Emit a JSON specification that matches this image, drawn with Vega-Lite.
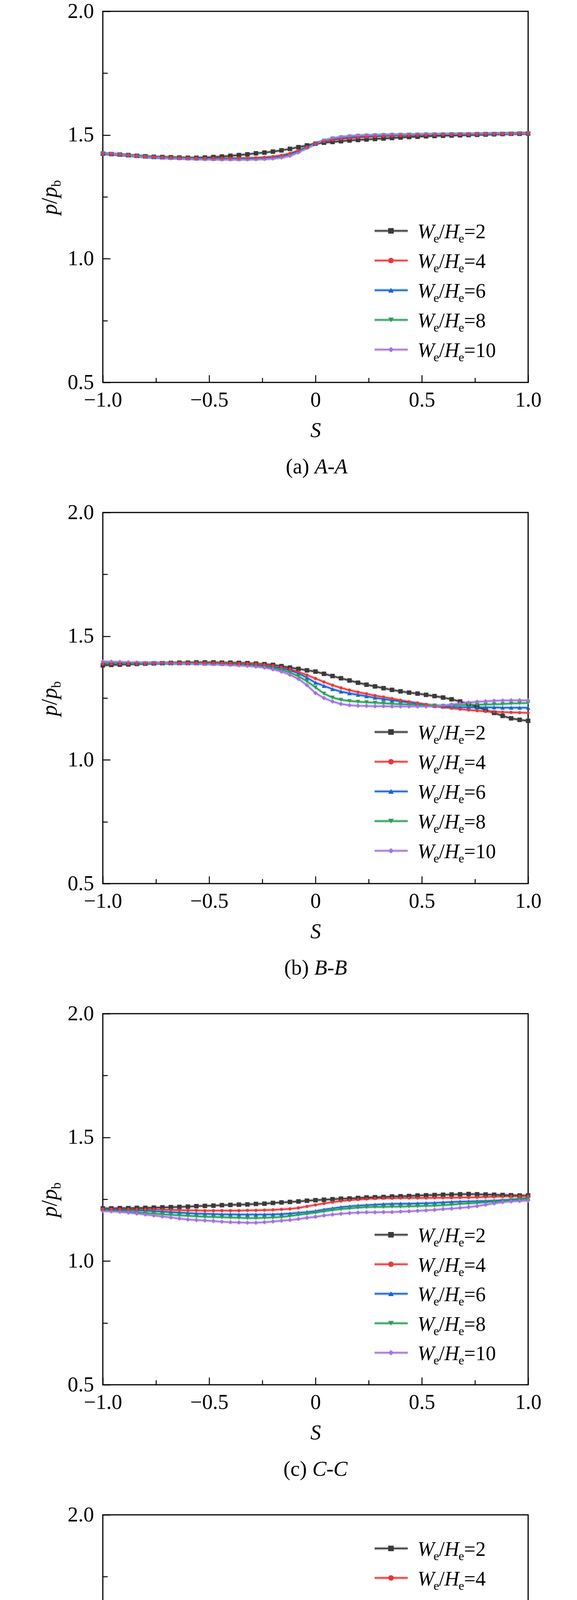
{
  "$schema": "https://vega.github.io/schema/vega-lite/v6.json",
  "autosize": {"type": "pad"},
  "padding": {"left": 98, "top": 0, "right": 0, "bottom": 0},
  "spacing": 333,
  "bounds": "flush",
  "config": {
    "font": "Liberation Serif",
    "view": {"stroke": "black", "strokeWidth": 3},
    "axis": {"labelFont": "Liberation Serif", "labelFontSize": 54, "labelColor": "black", "tickColor": "black", "tickWidth": 2.5, "domain": false, "grid": false, "labelFlush": false, "labelOverlap": false, "titleFont": "Liberation Serif", "titleFontSize": 54, "titleColor": "black", "titleFontWeight": "normal"},
    "text": {"color": "black"}
  },
  "datasets": {
    "leg": [{"k": "k2", "n": "=2"}, {"k": "k4", "n": "=4"}, {"k": "k6", "n": "=6"}, {"k": "k8", "n": "=8"}, {"k": "k10", "n": "=10"}],
    "a": [
      {"s":-1,"k2":1.425,"k4":1.425,"k6":1.425,"k8":1.425,"k10":1.426},
      {"s":-0.96,"k2":1.423,"k4":1.423,"k6":1.423,"k8":1.423,"k10":1.424},
      {"s":-0.92,"k2":1.421,"k4":1.42,"k6":1.42,"k8":1.42,"k10":1.421},
      {"s":-0.88,"k2":1.419,"k4":1.418,"k6":1.417,"k8":1.417,"k10":1.418},
      {"s":-0.84,"k2":1.416,"k4":1.415,"k6":1.415,"k8":1.414,"k10":1.415},
      {"s":-0.8,"k2":1.414,"k4":1.413,"k6":1.412,"k8":1.412,"k10":1.412},
      {"s":-0.76,"k2":1.412,"k4":1.411,"k6":1.41,"k8":1.41,"k10":1.41},
      {"s":-0.72,"k2":1.411,"k4":1.41,"k6":1.409,"k8":1.408,"k10":1.408},
      {"s":-0.68,"k2":1.41,"k4":1.409,"k6":1.408,"k8":1.407,"k10":1.406},
      {"s":-0.64,"k2":1.409,"k4":1.408,"k6":1.407,"k8":1.406,"k10":1.405},
      {"s":-0.6,"k2":1.408,"k4":1.407,"k6":1.406,"k8":1.405,"k10":1.404},
      {"s":-0.56,"k2":1.408,"k4":1.406,"k6":1.405,"k8":1.404,"k10":1.403},
      {"s":-0.52,"k2":1.409,"k4":1.406,"k6":1.405,"k8":1.403,"k10":1.402},
      {"s":-0.48,"k2":1.411,"k4":1.406,"k6":1.404,"k8":1.403,"k10":1.402},
      {"s":-0.44,"k2":1.413,"k4":1.406,"k6":1.404,"k8":1.402,"k10":1.401},
      {"s":-0.4,"k2":1.416,"k4":1.406,"k6":1.404,"k8":1.402,"k10":1.401},
      {"s":-0.36,"k2":1.419,"k4":1.406,"k6":1.404,"k8":1.402,"k10":1.401},
      {"s":-0.32,"k2":1.422,"k4":1.407,"k6":1.405,"k8":1.402,"k10":1.401},
      {"s":-0.28,"k2":1.426,"k4":1.408,"k6":1.406,"k8":1.403,"k10":1.402},
      {"s":-0.24,"k2":1.429,"k4":1.41,"k6":1.407,"k8":1.404,"k10":1.403},
      {"s":-0.2,"k2":1.433,"k4":1.413,"k6":1.41,"k8":1.406,"k10":1.405},
      {"s":-0.16,"k2":1.438,"k4":1.418,"k6":1.414,"k8":1.41,"k10":1.409},
      {"s":-0.12,"k2":1.444,"k4":1.426,"k6":1.422,"k8":1.418,"k10":1.416},
      {"s":-0.08,"k2":1.451,"k4":1.437,"k6":1.436,"k8":1.432,"k10":1.43},
      {"s":-0.04,"k2":1.458,"k4":1.451,"k6":1.451,"k8":1.449,"k10":1.448},
      {"s":0,"k2":1.465,"k4":1.466,"k6":1.466,"k8":1.465,"k10":1.465},
      {"s":0.04,"k2":1.469,"k4":1.474,"k6":1.476,"k8":1.477,"k10":1.478},
      {"s":0.08,"k2":1.472,"k4":1.48,"k6":1.483,"k8":1.486,"k10":1.487},
      {"s":0.12,"k2":1.475,"k4":1.484,"k6":1.488,"k8":1.491,"k10":1.492},
      {"s":0.16,"k2":1.478,"k4":1.487,"k6":1.491,"k8":1.494,"k10":1.496},
      {"s":0.2,"k2":1.48,"k4":1.49,"k6":1.494,"k8":1.497,"k10":1.498},
      {"s":0.24,"k2":1.482,"k4":1.492,"k6":1.496,"k8":1.498,"k10":1.499},
      {"s":0.28,"k2":1.484,"k4":1.494,"k6":1.497,"k8":1.499,"k10":1.5},
      {"s":0.32,"k2":1.486,"k4":1.496,"k6":1.498,"k8":1.5,"k10":1.501},
      {"s":0.36,"k2":1.488,"k4":1.497,"k6":1.499,"k8":1.501,"k10":1.501},
      {"s":0.4,"k2":1.49,"k4":1.498,"k6":1.5,"k8":1.501,"k10":1.502},
      {"s":0.44,"k2":1.492,"k4":1.499,"k6":1.501,"k8":1.502,"k10":1.502},
      {"s":0.48,"k2":1.493,"k4":1.5,"k6":1.501,"k8":1.502,"k10":1.503},
      {"s":0.52,"k2":1.495,"k4":1.5,"k6":1.502,"k8":1.503,"k10":1.503},
      {"s":0.56,"k2":1.496,"k4":1.501,"k6":1.502,"k8":1.503,"k10":1.503},
      {"s":0.6,"k2":1.497,"k4":1.502,"k6":1.503,"k8":1.503,"k10":1.504},
      {"s":0.64,"k2":1.498,"k4":1.502,"k6":1.503,"k8":1.504,"k10":1.504},
      {"s":0.68,"k2":1.499,"k4":1.503,"k6":1.504,"k8":1.504,"k10":1.504},
      {"s":0.72,"k2":1.5,"k4":1.503,"k6":1.504,"k8":1.504,"k10":1.505},
      {"s":0.76,"k2":1.501,"k4":1.504,"k6":1.504,"k8":1.505,"k10":1.505},
      {"s":0.8,"k2":1.502,"k4":1.504,"k6":1.505,"k8":1.505,"k10":1.505},
      {"s":0.84,"k2":1.503,"k4":1.505,"k6":1.505,"k8":1.505,"k10":1.506},
      {"s":0.88,"k2":1.504,"k4":1.505,"k6":1.506,"k8":1.506,"k10":1.506},
      {"s":0.92,"k2":1.505,"k4":1.506,"k6":1.506,"k8":1.506,"k10":1.506},
      {"s":0.96,"k2":1.505,"k4":1.506,"k6":1.507,"k8":1.507,"k10":1.507},
      {"s":1,"k2":1.506,"k4":1.507,"k6":1.507,"k8":1.507,"k10":1.507}
    ],
    "b": [
      {"s":-1,"k2":1.382,"k4":1.388,"k6":1.39,"k8":1.39,"k10":1.398},
      {"s":-0.96,"k2":1.384,"k4":1.388,"k6":1.39,"k8":1.39,"k10":1.397},
      {"s":-0.92,"k2":1.385,"k4":1.389,"k6":1.39,"k8":1.39,"k10":1.396},
      {"s":-0.88,"k2":1.386,"k4":1.389,"k6":1.39,"k8":1.39,"k10":1.395},
      {"s":-0.84,"k2":1.388,"k4":1.39,"k6":1.39,"k8":1.39,"k10":1.394},
      {"s":-0.8,"k2":1.389,"k4":1.39,"k6":1.39,"k8":1.39,"k10":1.393},
      {"s":-0.76,"k2":1.39,"k4":1.391,"k6":1.39,"k8":1.39,"k10":1.392},
      {"s":-0.72,"k2":1.391,"k4":1.391,"k6":1.39,"k8":1.39,"k10":1.392},
      {"s":-0.68,"k2":1.392,"k4":1.392,"k6":1.39,"k8":1.39,"k10":1.391},
      {"s":-0.64,"k2":1.393,"k4":1.392,"k6":1.39,"k8":1.39,"k10":1.39},
      {"s":-0.6,"k2":1.393,"k4":1.392,"k6":1.39,"k8":1.39,"k10":1.39},
      {"s":-0.56,"k2":1.394,"k4":1.392,"k6":1.39,"k8":1.39,"k10":1.389},
      {"s":-0.52,"k2":1.394,"k4":1.392,"k6":1.389,"k8":1.389,"k10":1.388},
      {"s":-0.48,"k2":1.394,"k4":1.392,"k6":1.389,"k8":1.388,"k10":1.387},
      {"s":-0.44,"k2":1.393,"k4":1.392,"k6":1.388,"k8":1.387,"k10":1.386},
      {"s":-0.4,"k2":1.393,"k4":1.391,"k6":1.387,"k8":1.386,"k10":1.384},
      {"s":-0.36,"k2":1.392,"k4":1.39,"k6":1.386,"k8":1.385,"k10":1.382},
      {"s":-0.32,"k2":1.391,"k4":1.389,"k6":1.385,"k8":1.383,"k10":1.38},
      {"s":-0.28,"k2":1.389,"k4":1.388,"k6":1.383,"k8":1.381,"k10":1.377},
      {"s":-0.24,"k2":1.387,"k4":1.385,"k6":1.38,"k8":1.377,"k10":1.373},
      {"s":-0.2,"k2":1.384,"k4":1.381,"k6":1.376,"k8":1.372,"k10":1.366},
      {"s":-0.16,"k2":1.379,"k4":1.375,"k6":1.37,"k8":1.364,"k10":1.357},
      {"s":-0.12,"k2":1.373,"k4":1.367,"k6":1.362,"k8":1.353,"k10":1.344},
      {"s":-0.08,"k2":1.368,"k4":1.356,"k6":1.35,"k8":1.338,"k10":1.327},
      {"s":-0.04,"k2":1.362,"k4":1.343,"k6":1.332,"k8":1.318,"k10":1.302},
      {"s":0,"k2":1.357,"k4":1.329,"k6":1.312,"k8":1.293,"k10":1.27},
      {"s":0.04,"k2":1.348,"k4":1.315,"k6":1.299,"k8":1.268,"k10":1.25},
      {"s":0.08,"k2":1.339,"k4":1.302,"k6":1.286,"k8":1.252,"k10":1.236},
      {"s":0.12,"k2":1.33,"k4":1.291,"k6":1.276,"k8":1.243,"k10":1.226},
      {"s":0.16,"k2":1.321,"k4":1.282,"k6":1.269,"k8":1.238,"k10":1.221},
      {"s":0.2,"k2":1.312,"k4":1.274,"k6":1.263,"k8":1.235,"k10":1.219},
      {"s":0.24,"k2":1.304,"k4":1.267,"k6":1.257,"k8":1.233,"k10":1.218},
      {"s":0.28,"k2":1.297,"k4":1.26,"k6":1.251,"k8":1.231,"k10":1.217},
      {"s":0.32,"k2":1.29,"k4":1.254,"k6":1.246,"k8":1.229,"k10":1.217},
      {"s":0.36,"k2":1.283,"k4":1.248,"k6":1.241,"k8":1.227,"k10":1.216},
      {"s":0.4,"k2":1.277,"k4":1.241,"k6":1.237,"k8":1.225,"k10":1.216},
      {"s":0.44,"k2":1.272,"k4":1.235,"k6":1.232,"k8":1.224,"k10":1.216},
      {"s":0.48,"k2":1.268,"k4":1.23,"k6":1.227,"k8":1.222,"k10":1.216},
      {"s":0.52,"k2":1.263,"k4":1.224,"k6":1.222,"k8":1.221,"k10":1.216},
      {"s":0.56,"k2":1.258,"k4":1.218,"k6":1.218,"k8":1.22,"k10":1.217},
      {"s":0.6,"k2":1.252,"k4":1.213,"k6":1.215,"k8":1.219,"k10":1.219},
      {"s":0.64,"k2":1.245,"k4":1.209,"k6":1.214,"k8":1.22,"k10":1.224},
      {"s":0.68,"k2":1.236,"k4":1.205,"k6":1.213,"k8":1.221,"k10":1.228},
      {"s":0.72,"k2":1.226,"k4":1.202,"k6":1.213,"k8":1.222,"k10":1.232},
      {"s":0.76,"k2":1.214,"k4":1.199,"k6":1.212,"k8":1.223,"k10":1.235},
      {"s":0.8,"k2":1.202,"k4":1.196,"k6":1.212,"k8":1.224,"k10":1.237},
      {"s":0.84,"k2":1.19,"k4":1.195,"k6":1.212,"k8":1.225,"k10":1.239},
      {"s":0.88,"k2":1.178,"k4":1.193,"k6":1.211,"k8":1.226,"k10":1.24},
      {"s":0.92,"k2":1.168,"k4":1.192,"k6":1.211,"k8":1.228,"k10":1.241},
      {"s":0.96,"k2":1.162,"k4":1.191,"k6":1.211,"k8":1.229,"k10":1.241},
      {"s":1,"k2":1.158,"k4":1.19,"k6":1.211,"k8":1.23,"k10":1.241}
    ],
    "c": [
      {"s":-1,"k2":1.213,"k4":1.21,"k6":1.209,"k8":1.207,"k10":1.202},
      {"s":-0.96,"k2":1.213,"k4":1.21,"k6":1.208,"k8":1.204,"k10":1.201},
      {"s":-0.92,"k2":1.214,"k4":1.21,"k6":1.207,"k8":1.202,"k10":1.199},
      {"s":-0.88,"k2":1.214,"k4":1.21,"k6":1.206,"k8":1.199,"k10":1.196},
      {"s":-0.84,"k2":1.215,"k4":1.209,"k6":1.205,"k8":1.197,"k10":1.192},
      {"s":-0.8,"k2":1.215,"k4":1.209,"k6":1.204,"k8":1.194,"k10":1.188},
      {"s":-0.76,"k2":1.216,"k4":1.209,"k6":1.202,"k8":1.192,"k10":1.184},
      {"s":-0.72,"k2":1.217,"k4":1.208,"k6":1.2,"k8":1.189,"k10":1.18},
      {"s":-0.68,"k2":1.218,"k4":1.207,"k6":1.198,"k8":1.187,"k10":1.176},
      {"s":-0.64,"k2":1.219,"k4":1.206,"k6":1.196,"k8":1.185,"k10":1.172},
      {"s":-0.6,"k2":1.22,"k4":1.205,"k6":1.194,"k8":1.183,"k10":1.168},
      {"s":-0.56,"k2":1.222,"k4":1.205,"k6":1.192,"k8":1.181,"k10":1.166},
      {"s":-0.52,"k2":1.223,"k4":1.204,"k6":1.191,"k8":1.179,"k10":1.164},
      {"s":-0.48,"k2":1.224,"k4":1.204,"k6":1.19,"k8":1.178,"k10":1.162},
      {"s":-0.44,"k2":1.226,"k4":1.204,"k6":1.189,"k8":1.177,"k10":1.159},
      {"s":-0.4,"k2":1.227,"k4":1.204,"k6":1.189,"k8":1.176,"k10":1.157},
      {"s":-0.36,"k2":1.228,"k4":1.204,"k6":1.188,"k8":1.175,"k10":1.156},
      {"s":-0.32,"k2":1.229,"k4":1.205,"k6":1.188,"k8":1.174,"k10":1.155},
      {"s":-0.28,"k2":1.231,"k4":1.205,"k6":1.188,"k8":1.174,"k10":1.155},
      {"s":-0.24,"k2":1.232,"k4":1.206,"k6":1.188,"k8":1.175,"k10":1.157},
      {"s":-0.2,"k2":1.235,"k4":1.207,"k6":1.189,"k8":1.176,"k10":1.16},
      {"s":-0.16,"k2":1.237,"k4":1.209,"k6":1.19,"k8":1.178,"k10":1.163},
      {"s":-0.12,"k2":1.239,"k4":1.211,"k6":1.192,"k8":1.182,"k10":1.166},
      {"s":-0.08,"k2":1.241,"k4":1.215,"k6":1.195,"k8":1.187,"k10":1.17},
      {"s":-0.04,"k2":1.244,"k4":1.221,"k6":1.198,"k8":1.191,"k10":1.175},
      {"s":0,"k2":1.246,"k4":1.227,"k6":1.202,"k8":1.196,"k10":1.179},
      {"s":0.04,"k2":1.248,"k4":1.233,"k6":1.208,"k8":1.201,"k10":1.184},
      {"s":0.08,"k2":1.25,"k4":1.238,"k6":1.213,"k8":1.206,"k10":1.188},
      {"s":0.12,"k2":1.252,"k4":1.243,"k6":1.218,"k8":1.21,"k10":1.191},
      {"s":0.16,"k2":1.253,"k4":1.246,"k6":1.221,"k8":1.213,"k10":1.194},
      {"s":0.2,"k2":1.255,"k4":1.249,"k6":1.224,"k8":1.216,"k10":1.196},
      {"s":0.24,"k2":1.257,"k4":1.251,"k6":1.226,"k8":1.218,"k10":1.197},
      {"s":0.28,"k2":1.258,"k4":1.253,"k6":1.228,"k8":1.219,"k10":1.197},
      {"s":0.32,"k2":1.259,"k4":1.254,"k6":1.23,"k8":1.219,"k10":1.198},
      {"s":0.36,"k2":1.261,"k4":1.254,"k6":1.231,"k8":1.22,"k10":1.198},
      {"s":0.4,"k2":1.262,"k4":1.255,"k6":1.232,"k8":1.22,"k10":1.2},
      {"s":0.44,"k2":1.263,"k4":1.255,"k6":1.232,"k8":1.221,"k10":1.201},
      {"s":0.48,"k2":1.265,"k4":1.255,"k6":1.233,"k8":1.222,"k10":1.203},
      {"s":0.52,"k2":1.266,"k4":1.255,"k6":1.234,"k8":1.223,"k10":1.205},
      {"s":0.56,"k2":1.267,"k4":1.256,"k6":1.235,"k8":1.224,"k10":1.207},
      {"s":0.6,"k2":1.268,"k4":1.256,"k6":1.237,"k8":1.226,"k10":1.21},
      {"s":0.64,"k2":1.269,"k4":1.256,"k6":1.239,"k8":1.228,"k10":1.212},
      {"s":0.68,"k2":1.27,"k4":1.257,"k6":1.24,"k8":1.231,"k10":1.215},
      {"s":0.72,"k2":1.271,"k4":1.257,"k6":1.241,"k8":1.233,"k10":1.218},
      {"s":0.76,"k2":1.27,"k4":1.258,"k6":1.242,"k8":1.235,"k10":1.222},
      {"s":0.8,"k2":1.269,"k4":1.259,"k6":1.243,"k8":1.238,"k10":1.228},
      {"s":0.84,"k2":1.268,"k4":1.26,"k6":1.244,"k8":1.24,"k10":1.233},
      {"s":0.88,"k2":1.267,"k4":1.261,"k6":1.246,"k8":1.243,"k10":1.238},
      {"s":0.92,"k2":1.266,"k4":1.262,"k6":1.248,"k8":1.246,"k10":1.241},
      {"s":0.96,"k2":1.265,"k4":1.262,"k6":1.251,"k8":1.249,"k10":1.243},
      {"s":1,"k2":1.265,"k4":1.263,"k6":1.254,"k8":1.252,"k10":1.244}
    ],
    "d": [
      {"s":-1,"k2":0.998,"k4":0.984,"k6":0.959,"k8":0.933,"k10":0.909},
      {"s":-0.96,"k2":0.996,"k4":0.985,"k6":0.963,"k8":0.94,"k10":0.92},
      {"s":-0.92,"k2":0.993,"k4":0.986,"k6":0.968,"k8":0.948,"k10":0.934},
      {"s":-0.88,"k2":0.99,"k4":0.988,"k6":0.974,"k8":0.957,"k10":0.95},
      {"s":-0.84,"k2":0.987,"k4":0.99,"k6":0.982,"k8":0.968,"k10":0.97},
      {"s":-0.8,"k2":0.984,"k4":0.993,"k6":0.991,"k8":0.98,"k10":0.992},
      {"s":-0.76,"k2":0.982,"k4":0.997,"k6":1.001,"k8":0.995,"k10":1.014},
      {"s":-0.72,"k2":0.98,"k4":1.001,"k6":1.012,"k8":1.011,"k10":1.036},
      {"s":-0.68,"k2":0.978,"k4":1.005,"k6":1.023,"k8":1.025,"k10":1.056},
      {"s":-0.64,"k2":0.976,"k4":1.008,"k6":1.035,"k8":1.036,"k10":1.074},
      {"s":-0.6,"k2":0.975,"k4":1.011,"k6":1.044,"k8":1.047,"k10":1.089},
      {"s":-0.56,"k2":0.974,"k4":1.013,"k6":1.05,"k8":1.057,"k10":1.101},
      {"s":-0.52,"k2":0.973,"k4":1.015,"k6":1.055,"k8":1.067,"k10":1.112},
      {"s":-0.48,"k2":0.972,"k4":1.017,"k6":1.06,"k8":1.077,"k10":1.121},
      {"s":-0.44,"k2":0.972,"k4":1.019,"k6":1.064,"k8":1.086,"k10":1.129},
      {"s":-0.4,"k2":0.972,"k4":1.02,"k6":1.066,"k8":1.094,"k10":1.135},
      {"s":-0.36,"k2":0.973,"k4":1.022,"k6":1.069,"k8":1.1,"k10":1.139},
      {"s":-0.32,"k2":0.974,"k4":1.023,"k6":1.071,"k8":1.105,"k10":1.143},
      {"s":-0.28,"k2":0.975,"k4":1.025,"k6":1.073,"k8":1.11,"k10":1.146},
      {"s":-0.24,"k2":0.977,"k4":1.027,"k6":1.075,"k8":1.114,"k10":1.148},
      {"s":-0.2,"k2":0.979,"k4":1.029,"k6":1.076,"k8":1.117,"k10":1.15},
      {"s":-0.16,"k2":0.981,"k4":1.031,"k6":1.077,"k8":1.119,"k10":1.151},
      {"s":-0.12,"k2":0.984,"k4":1.033,"k6":1.078,"k8":1.12,"k10":1.152},
      {"s":-0.08,"k2":0.987,"k4":1.035,"k6":1.079,"k8":1.121,"k10":1.153},
      {"s":-0.04,"k2":0.989,"k4":1.037,"k6":1.08,"k8":1.122,"k10":1.154},
      {"s":0,"k2":0.991,"k4":1.038,"k6":1.08,"k8":1.122,"k10":1.154},
      {"s":0.04,"k2":0.993,"k4":1.039,"k6":1.08,"k8":1.122,"k10":1.154},
      {"s":0.08,"k2":0.995,"k4":1.04,"k6":1.08,"k8":1.122,"k10":1.154},
      {"s":0.12,"k2":0.996,"k4":1.041,"k6":1.08,"k8":1.121,"k10":1.153},
      {"s":0.16,"k2":0.998,"k4":1.041,"k6":1.08,"k8":1.12,"k10":1.151},
      {"s":0.2,"k2":0.999,"k4":1.041,"k6":1.08,"k8":1.119,"k10":1.148},
      {"s":0.24,"k2":1.001,"k4":1.04,"k6":1.08,"k8":1.117,"k10":1.143},
      {"s":0.28,"k2":1.002,"k4":1.039,"k6":1.079,"k8":1.115,"k10":1.136},
      {"s":0.32,"k2":1.003,"k4":1.038,"k6":1.078,"k8":1.111,"k10":1.128},
      {"s":0.36,"k2":1.004,"k4":1.037,"k6":1.077,"k8":1.106,"k10":1.12},
      {"s":0.4,"k2":1.004,"k4":1.036,"k6":1.075,"k8":1.1,"k10":1.11},
      {"s":0.44,"k2":1.005,"k4":1.034,"k6":1.073,"k8":1.093,"k10":1.099},
      {"s":0.48,"k2":1.005,"k4":1.032,"k6":1.07,"k8":1.083,"k10":1.087},
      {"s":0.52,"k2":1.006,"k4":1.029,"k6":1.065,"k8":1.072,"k10":1.074},
      {"s":0.56,"k2":1.006,"k4":1.026,"k6":1.059,"k8":1.061,"k10":1.059},
      {"s":0.6,"k2":1.007,"k4":1.023,"k6":1.051,"k8":1.05,"k10":1.042},
      {"s":0.64,"k2":1.008,"k4":1.019,"k6":1.043,"k8":1.039,"k10":1.026},
      {"s":0.68,"k2":1.009,"k4":1.016,"k6":1.034,"k8":1.028,"k10":1.01},
      {"s":0.72,"k2":1.011,"k4":1.013,"k6":1.025,"k8":1.017,"k10":0.993},
      {"s":0.76,"k2":1.013,"k4":1.01,"k6":1.017,"k8":1.005,"k10":0.975},
      {"s":0.8,"k2":1.016,"k4":1.007,"k6":1.01,"k8":0.992,"k10":0.958},
      {"s":0.84,"k2":1.018,"k4":1.005,"k6":1.004,"k8":0.979,"k10":0.942},
      {"s":0.88,"k2":1.02,"k4":1.003,"k6":0.996,"k8":0.968,"k10":0.928},
      {"s":0.92,"k2":1.022,"k4":1.001,"k6":0.989,"k8":0.959,"k10":0.917},
      {"s":0.96,"k2":1.024,"k4":0.999,"k6":0.98,"k8":0.952,"k10":0.907},
      {"s":1,"k2":1.025,"k4":0.997,"k6":0.97,"k8":0.946,"k10":0.898}
    ],
    "e": [
      {"s":-1,"k2":1,"k4":1,"k6":1,"k8":1,"k10":1},
      {"s":-0.96,"k2":1,"k4":1,"k6":1,"k8":1,"k10":1},
      {"s":-0.92,"k2":1,"k4":1,"k6":1,"k8":1,"k10":1},
      {"s":-0.88,"k2":1,"k4":1,"k6":1,"k8":1,"k10":1},
      {"s":-0.84,"k2":1,"k4":1,"k6":1,"k8":1,"k10":1},
      {"s":-0.8,"k2":1,"k4":1,"k6":1,"k8":1,"k10":1},
      {"s":-0.76,"k2":1,"k4":1,"k6":1,"k8":1,"k10":1},
      {"s":-0.72,"k2":1,"k4":1,"k6":1,"k8":1,"k10":1},
      {"s":-0.68,"k2":1,"k4":1,"k6":1,"k8":1,"k10":1},
      {"s":-0.64,"k2":1,"k4":1,"k6":1,"k8":1,"k10":1},
      {"s":-0.6,"k2":1,"k4":1,"k6":1,"k8":1,"k10":1},
      {"s":-0.56,"k2":1,"k4":1,"k6":1,"k8":1,"k10":1},
      {"s":-0.52,"k2":1,"k4":1,"k6":1,"k8":1,"k10":1},
      {"s":-0.48,"k2":1,"k4":1,"k6":1,"k8":1,"k10":1},
      {"s":-0.44,"k2":1,"k4":1,"k6":1,"k8":1,"k10":1},
      {"s":-0.4,"k2":1,"k4":1,"k6":1,"k8":1,"k10":1},
      {"s":-0.36,"k2":1,"k4":1,"k6":1,"k8":1,"k10":1},
      {"s":-0.32,"k2":1,"k4":1,"k6":1,"k8":1,"k10":1},
      {"s":-0.28,"k2":1,"k4":1,"k6":1,"k8":1,"k10":1},
      {"s":-0.24,"k2":1,"k4":1,"k6":1,"k8":1,"k10":1},
      {"s":-0.2,"k2":1,"k4":1,"k6":1,"k8":1,"k10":1},
      {"s":-0.16,"k2":1,"k4":1,"k6":1,"k8":1,"k10":1},
      {"s":-0.12,"k2":1,"k4":1,"k6":1,"k8":1,"k10":1},
      {"s":-0.08,"k2":1,"k4":1,"k6":1,"k8":1,"k10":1},
      {"s":-0.04,"k2":1,"k4":1,"k6":1,"k8":1,"k10":1},
      {"s":0,"k2":1,"k4":1,"k6":1,"k8":1,"k10":1},
      {"s":0.04,"k2":1,"k4":1,"k6":1,"k8":1,"k10":1},
      {"s":0.08,"k2":1,"k4":1,"k6":1,"k8":1,"k10":1},
      {"s":0.12,"k2":1,"k4":1,"k6":1,"k8":1,"k10":1},
      {"s":0.16,"k2":1,"k4":1,"k6":1,"k8":1,"k10":1},
      {"s":0.2,"k2":1,"k4":1,"k6":1,"k8":1,"k10":1},
      {"s":0.24,"k2":1,"k4":1,"k6":1,"k8":1,"k10":1},
      {"s":0.28,"k2":1,"k4":1,"k6":1,"k8":1,"k10":1},
      {"s":0.32,"k2":1,"k4":1,"k6":1,"k8":1,"k10":1},
      {"s":0.36,"k2":1,"k4":1,"k6":1,"k8":1,"k10":1},
      {"s":0.4,"k2":1,"k4":1,"k6":1,"k8":1,"k10":1},
      {"s":0.44,"k2":1,"k4":1,"k6":1,"k8":1,"k10":1},
      {"s":0.48,"k2":1,"k4":1,"k6":1,"k8":1,"k10":1},
      {"s":0.52,"k2":1,"k4":1,"k6":1,"k8":1,"k10":1},
      {"s":0.56,"k2":1,"k4":1,"k6":1,"k8":1,"k10":1},
      {"s":0.6,"k2":1,"k4":1,"k6":1,"k8":1,"k10":1},
      {"s":0.64,"k2":1,"k4":1,"k6":1,"k8":1,"k10":1},
      {"s":0.68,"k2":1,"k4":1,"k6":1,"k8":1,"k10":1},
      {"s":0.72,"k2":1,"k4":1,"k6":1,"k8":1,"k10":1},
      {"s":0.76,"k2":1,"k4":1,"k6":1,"k8":1,"k10":1},
      {"s":0.8,"k2":1,"k4":1,"k6":1,"k8":1,"k10":1},
      {"s":0.84,"k2":1,"k4":1,"k6":1,"k8":1,"k10":1},
      {"s":0.88,"k2":1,"k4":1,"k6":1,"k8":1,"k10":1},
      {"s":0.92,"k2":1,"k4":1,"k6":1,"k8":1,"k10":1},
      {"s":0.96,"k2":1,"k4":1,"k6":1,"k8":1,"k10":1},
      {"s":1,"k2":1,"k4":1,"k6":1,"k8":1,"k10":1}
    ]
  },
  "vconcat": [
    {
      "width": 1088, "height": 950,
      "resolve": {"scale": {"y": "independent"}, "axis": {"x": "independent", "y": "independent"}},
      "layer": [
        {"data": {"name": "a"}, "transform": [{"fold": ["k2","k4","k6","k8","k10"], "as": ["k","v"]}],
         "mark": {"type": "line", "strokeWidth": 9, "opacity": 0.25},
         "encoding": {
           "x": {"field": "s", "type": "quantitative", "scale": {"domain": [-1,1], "nice": false}, "axis": {"orient": "bottom", "values": [-0.75,-0.25,0.25,0.75], "tickSize": -12, "labels": false, "title": null}},
           "y": {"field": "v", "type": "quantitative", "scale": {"domain": [0.5,2], "nice": false, "zero": false}, "axis": {"orient": "left", "values": [0.75,1.25,1.75], "tickSize": -12, "labels": false, "title": null}},
           "color": {"field": "k", "type": "nominal", "scale": {"domain": ["k2","k4","k6","k8","k10"], "range": ["#3a3a3a","#e8383d","#1565d8","#2b9e5a","#a573e0"]}, "legend": null}}},
        {"data": {"name": "a"}, "transform": [{"fold": ["k2","k4","k6","k8","k10"], "as": ["k","v"]}],
         "mark": {"type": "line", "strokeWidth": 3.5},
         "encoding": {
           "x": {"field": "s", "type": "quantitative", "scale": {"domain": [-1,1], "nice": false}, "axis": {"orient": "bottom", "values": [-1,-0.5,0,0.5,1], "tickSize": -19, "labelPadding": 37, "labelExpr": "datum.value == 0 ? '0' : format(datum.value, '.1f')", "title": "S", "titleFontStyle": "italic", "titlePadding": 24}},
           "y": {"field": "v", "type": "quantitative", "scale": {"domain": [0.5,2], "nice": false, "zero": false}, "axis": {"orient": "left", "values": [0.5,1,1.5,2], "tickSize": -19, "labelPadding": 42, "format": ".1f", "title": null}},
           "color": {"field": "k", "type": "nominal", "scale": {"domain": ["k2","k4","k6","k8","k10"], "range": ["#3a3a3a","#e8383d","#1565d8","#2b9e5a","#a573e0"]}, "legend": null}}},
        {"data": {"name": "a"}, "transform": [{"fold": ["k2","k4","k6","k8","k10"], "as": ["k","v"]}, {"filter": "datum.k != 'k4'"}],
         "mark": {"type": "point", "filled": true, "opacity": 1, "size": 130},
         "encoding": {
           "x": {"field": "s", "type": "quantitative", "scale": {"domain": [-1,1], "nice": false}, "axis": null},
           "y": {"field": "v", "type": "quantitative", "scale": {"domain": [0.5,2], "nice": false, "zero": false}, "axis": null},
           "color": {"field": "k", "type": "nominal", "scale": {"domain": ["k2","k4","k6","k8","k10"], "range": ["#3a3a3a","#e8383d","#1565d8","#2b9e5a","#a573e0"]}, "legend": null},
           "shape": {"field": "k", "type": "nominal", "scale": {"domain": ["k2","k4","k6","k8","k10"], "range": ["square","circle","triangle-up","triangle-down","diamond"]}, "legend": null}}},
        {"data": {"name": "a"}, "transform": [{"fold": ["k2","k4","k6","k8","k10"], "as": ["k","v"]}, {"filter": "datum.k == 'k4'"}],
         "mark": {"type": "point", "filled": true, "opacity": 1, "size": 60},
         "encoding": {
           "x": {"field": "s", "type": "quantitative", "scale": {"domain": [-1,1], "nice": false}, "axis": null},
           "y": {"field": "v", "type": "quantitative", "scale": {"domain": [0.5,2], "nice": false, "zero": false}, "axis": null},
           "color": {"field": "k", "type": "nominal", "scale": {"domain": ["k2","k4","k6","k8","k10"], "range": ["#3a3a3a","#e8383d","#1565d8","#2b9e5a","#a573e0"]}, "legend": null},
           "shape": {"field": "k", "type": "nominal", "scale": {"domain": ["k2","k4","k6","k8","k10"], "range": ["square","circle","triangle-up","triangle-down","diamond"]}, "legend": null}}},
        {"data": {"name": "leg"},
         "encoding": {"y": {"field": "k", "type": "nominal", "scale": {"type": "point", "domain": ["k2","k4","k6","k8","k10"], "range": [562,866], "padding": 0}, "axis": null}},
         "layer": [
           {"mark": {"type": "rule", "strokeWidth": 9, "opacity": 0.25}, "encoding": {"x": {"datum": 0.278, "type": "quantitative", "scale": {"domain": [-1,1], "nice": false}, "axis": null}, "x2": {"datum": 0.434}, "color": {"field": "k", "type": "nominal", "scale": {"domain": ["k2","k4","k6","k8","k10"], "range": ["#3a3a3a","#e8383d","#1565d8","#2b9e5a","#a573e0"]}, "legend": null}}},
           {"mark": {"type": "rule", "strokeWidth": 3.5}, "encoding": {"x": {"datum": 0.278, "type": "quantitative", "scale": {"domain": [-1,1], "nice": false}, "axis": null}, "x2": {"datum": 0.434}, "color": {"field": "k", "type": "nominal", "scale": {"domain": ["k2","k4","k6","k8","k10"], "range": ["#3a3a3a","#e8383d","#1565d8","#2b9e5a","#a573e0"]}, "legend": null}}},
           {"mark": {"type": "point", "filled": true, "opacity": 1, "size": 200}, "encoding": {"x": {"datum": 0.355, "type": "quantitative", "scale": {"domain": [-1,1], "nice": false}, "axis": null}, "color": {"field": "k", "type": "nominal", "scale": {"domain": ["k2","k4","k6","k8","k10"], "range": ["#3a3a3a","#e8383d","#1565d8","#2b9e5a","#a573e0"]}, "legend": null}, "shape": {"field": "k", "type": "nominal", "scale": {"domain": ["k2","k4","k6","k8","k10"], "range": ["square","circle","triangle-up","triangle-down","diamond"]}, "legend": null}}},
           {"mark": {"type": "text", "fontSize": 52, "fontStyle": "italic", "align": "left", "baseline": "alphabetic", "dx": 0, "dy": 19}, "encoding": {"x": {"datum": 0.48, "type": "quantitative", "scale": {"domain": [-1,1], "nice": false}, "axis": null}, "text": {"value": "W"}}},
           {"mark": {"type": "text", "fontSize": 32, "align": "left", "baseline": "alphabetic", "dx": 41, "dy": 30}, "encoding": {"x": {"datum": 0.48, "type": "quantitative", "scale": {"domain": [-1,1], "nice": false}, "axis": null}, "text": {"value": "e"}}},
           {"mark": {"type": "text", "fontSize": 52, "align": "left", "baseline": "alphabetic", "dx": 55, "dy": 19}, "encoding": {"x": {"datum": 0.48, "type": "quantitative", "scale": {"domain": [-1,1], "nice": false}, "axis": null}, "text": {"value": "/"}}},
           {"mark": {"type": "text", "fontSize": 52, "fontStyle": "italic", "align": "left", "baseline": "alphabetic", "dx": 69, "dy": 19}, "encoding": {"x": {"datum": 0.48, "type": "quantitative", "scale": {"domain": [-1,1], "nice": false}, "axis": null}, "text": {"value": "H"}}},
           {"mark": {"type": "text", "fontSize": 32, "align": "left", "baseline": "alphabetic", "dx": 105, "dy": 30}, "encoding": {"x": {"datum": 0.48, "type": "quantitative", "scale": {"domain": [-1,1], "nice": false}, "axis": null}, "text": {"value": "e"}}},
           {"mark": {"type": "text", "fontSize": 52, "align": "left", "baseline": "alphabetic", "dx": 119, "dy": 19}, "encoding": {"x": {"datum": 0.48, "type": "quantitative", "scale": {"domain": [-1,1], "nice": false}, "axis": null}, "text": {"field": "n"}}}
         ]},
        {"data": {"values": [{}]},
         "encoding": {"x": {"datum": -1, "type": "quantitative", "scale": {"domain": [-1,1], "nice": false}, "axis": null}, "y": {"datum": 1.25, "type": "quantitative", "scale": {"domain": [0.5,2], "nice": false, "zero": false}, "axis": null}},
         "layer": [
           {"mark": {"type": "text", "angle": 270, "align": "left", "baseline": "alphabetic", "fontSize": 56, "fontStyle": "italic", "dx": -46, "dy": -118}, "encoding": {"text": {"value": "p"}}},
           {"mark": {"type": "text", "angle": 270, "align": "left", "baseline": "alphabetic", "fontSize": 56, "dx": -18, "dy": -118}, "encoding": {"text": {"value": "/"}}},
           {"mark": {"type": "text", "angle": 270, "align": "left", "baseline": "alphabetic", "fontSize": 56, "fontStyle": "italic", "dx": -2, "dy": -118}, "encoding": {"text": {"value": "p"}}},
           {"mark": {"type": "text", "angle": 270, "align": "left", "baseline": "alphabetic", "fontSize": 34, "dx": 26, "dy": -108}, "encoding": {"text": {"value": "b"}}}
         ]},
        {"data": {"values": [{}]},
         "encoding": {"x": {"datum": 0, "type": "quantitative", "scale": {"domain": [-1,1], "nice": false}, "axis": null}, "y": {"datum": 0.5, "type": "quantitative", "scale": {"domain": [0.5,2], "nice": false, "zero": false}, "axis": null}},
         "layer": [
           {"mark": {"type": "text", "align": "right", "baseline": "alphabetic", "fontSize": 54, "dx": -16, "dy": 233}, "encoding": {"text": {"value": "(a)"}}},
           {"mark": {"type": "text", "align": "left", "baseline": "alphabetic", "fontSize": 54, "fontStyle": "italic", "dx": -2, "dy": 233}, "encoding": {"text": {"value": "A-A"}}}
         ]}
      ]
    },
    {
      "width": 1088, "height": 950,
      "resolve": {"scale": {"y": "independent"}, "axis": {"x": "independent", "y": "independent"}},
      "layer": [
        {"data": {"name": "b"}, "transform": [{"fold": ["k2","k4","k6","k8","k10"], "as": ["k","v"]}],
         "mark": {"type": "line", "strokeWidth": 9, "opacity": 0.25},
         "encoding": {
           "x": {"field": "s", "type": "quantitative", "scale": {"domain": [-1,1], "nice": false}, "axis": {"orient": "bottom", "values": [-0.75,-0.25,0.25,0.75], "tickSize": -12, "labels": false, "title": null}},
           "y": {"field": "v", "type": "quantitative", "scale": {"domain": [0.5,2], "nice": false, "zero": false}, "axis": {"orient": "left", "values": [0.75,1.25,1.75], "tickSize": -12, "labels": false, "title": null}},
           "color": {"field": "k", "type": "nominal", "scale": {"domain": ["k2","k4","k6","k8","k10"], "range": ["#3a3a3a","#e8383d","#1565d8","#2b9e5a","#a573e0"]}, "legend": null}}},
        {"data": {"name": "b"}, "transform": [{"fold": ["k2","k4","k6","k8","k10"], "as": ["k","v"]}],
         "mark": {"type": "line", "strokeWidth": 3.5},
         "encoding": {
           "x": {"field": "s", "type": "quantitative", "scale": {"domain": [-1,1], "nice": false}, "axis": {"orient": "bottom", "values": [-1,-0.5,0,0.5,1], "tickSize": -19, "labelPadding": 37, "labelExpr": "datum.value == 0 ? '0' : format(datum.value, '.1f')", "title": "S", "titleFontStyle": "italic", "titlePadding": 24}},
           "y": {"field": "v", "type": "quantitative", "scale": {"domain": [0.5,2], "nice": false, "zero": false}, "axis": {"orient": "left", "values": [0.5,1,1.5,2], "tickSize": -19, "labelPadding": 42, "format": ".1f", "title": null}},
           "color": {"field": "k", "type": "nominal", "scale": {"domain": ["k2","k4","k6","k8","k10"], "range": ["#3a3a3a","#e8383d","#1565d8","#2b9e5a","#a573e0"]}, "legend": null}}},
        {"data": {"name": "b"}, "transform": [{"fold": ["k2","k4","k6","k8","k10"], "as": ["k","v"]}, {"filter": "datum.k != 'k4'"}],
         "mark": {"type": "point", "filled": true, "opacity": 1, "size": 130},
         "encoding": {
           "x": {"field": "s", "type": "quantitative", "scale": {"domain": [-1,1], "nice": false}, "axis": null},
           "y": {"field": "v", "type": "quantitative", "scale": {"domain": [0.5,2], "nice": false, "zero": false}, "axis": null},
           "color": {"field": "k", "type": "nominal", "scale": {"domain": ["k2","k4","k6","k8","k10"], "range": ["#3a3a3a","#e8383d","#1565d8","#2b9e5a","#a573e0"]}, "legend": null},
           "shape": {"field": "k", "type": "nominal", "scale": {"domain": ["k2","k4","k6","k8","k10"], "range": ["square","circle","triangle-up","triangle-down","diamond"]}, "legend": null}}},
        {"data": {"name": "b"}, "transform": [{"fold": ["k2","k4","k6","k8","k10"], "as": ["k","v"]}, {"filter": "datum.k == 'k4'"}],
         "mark": {"type": "point", "filled": true, "opacity": 1, "size": 60},
         "encoding": {
           "x": {"field": "s", "type": "quantitative", "scale": {"domain": [-1,1], "nice": false}, "axis": null},
           "y": {"field": "v", "type": "quantitative", "scale": {"domain": [0.5,2], "nice": false, "zero": false}, "axis": null},
           "color": {"field": "k", "type": "nominal", "scale": {"domain": ["k2","k4","k6","k8","k10"], "range": ["#3a3a3a","#e8383d","#1565d8","#2b9e5a","#a573e0"]}, "legend": null},
           "shape": {"field": "k", "type": "nominal", "scale": {"domain": ["k2","k4","k6","k8","k10"], "range": ["square","circle","triangle-up","triangle-down","diamond"]}, "legend": null}}},
        {"data": {"name": "leg"},
         "encoding": {"y": {"field": "k", "type": "nominal", "scale": {"type": "point", "domain": ["k2","k4","k6","k8","k10"], "range": [562,866], "padding": 0}, "axis": null}},
         "layer": [
           {"mark": {"type": "rule", "strokeWidth": 9, "opacity": 0.25}, "encoding": {"x": {"datum": 0.278, "type": "quantitative", "scale": {"domain": [-1,1], "nice": false}, "axis": null}, "x2": {"datum": 0.434}, "color": {"field": "k", "type": "nominal", "scale": {"domain": ["k2","k4","k6","k8","k10"], "range": ["#3a3a3a","#e8383d","#1565d8","#2b9e5a","#a573e0"]}, "legend": null}}},
           {"mark": {"type": "rule", "strokeWidth": 3.5}, "encoding": {"x": {"datum": 0.278, "type": "quantitative", "scale": {"domain": [-1,1], "nice": false}, "axis": null}, "x2": {"datum": 0.434}, "color": {"field": "k", "type": "nominal", "scale": {"domain": ["k2","k4","k6","k8","k10"], "range": ["#3a3a3a","#e8383d","#1565d8","#2b9e5a","#a573e0"]}, "legend": null}}},
           {"mark": {"type": "point", "filled": true, "opacity": 1, "size": 200}, "encoding": {"x": {"datum": 0.355, "type": "quantitative", "scale": {"domain": [-1,1], "nice": false}, "axis": null}, "color": {"field": "k", "type": "nominal", "scale": {"domain": ["k2","k4","k6","k8","k10"], "range": ["#3a3a3a","#e8383d","#1565d8","#2b9e5a","#a573e0"]}, "legend": null}, "shape": {"field": "k", "type": "nominal", "scale": {"domain": ["k2","k4","k6","k8","k10"], "range": ["square","circle","triangle-up","triangle-down","diamond"]}, "legend": null}}},
           {"mark": {"type": "text", "fontSize": 52, "fontStyle": "italic", "align": "left", "baseline": "alphabetic", "dx": 0, "dy": 19}, "encoding": {"x": {"datum": 0.48, "type": "quantitative", "scale": {"domain": [-1,1], "nice": false}, "axis": null}, "text": {"value": "W"}}},
           {"mark": {"type": "text", "fontSize": 32, "align": "left", "baseline": "alphabetic", "dx": 41, "dy": 30}, "encoding": {"x": {"datum": 0.48, "type": "quantitative", "scale": {"domain": [-1,1], "nice": false}, "axis": null}, "text": {"value": "e"}}},
           {"mark": {"type": "text", "fontSize": 52, "align": "left", "baseline": "alphabetic", "dx": 55, "dy": 19}, "encoding": {"x": {"datum": 0.48, "type": "quantitative", "scale": {"domain": [-1,1], "nice": false}, "axis": null}, "text": {"value": "/"}}},
           {"mark": {"type": "text", "fontSize": 52, "fontStyle": "italic", "align": "left", "baseline": "alphabetic", "dx": 69, "dy": 19}, "encoding": {"x": {"datum": 0.48, "type": "quantitative", "scale": {"domain": [-1,1], "nice": false}, "axis": null}, "text": {"value": "H"}}},
           {"mark": {"type": "text", "fontSize": 32, "align": "left", "baseline": "alphabetic", "dx": 105, "dy": 30}, "encoding": {"x": {"datum": 0.48, "type": "quantitative", "scale": {"domain": [-1,1], "nice": false}, "axis": null}, "text": {"value": "e"}}},
           {"mark": {"type": "text", "fontSize": 52, "align": "left", "baseline": "alphabetic", "dx": 119, "dy": 19}, "encoding": {"x": {"datum": 0.48, "type": "quantitative", "scale": {"domain": [-1,1], "nice": false}, "axis": null}, "text": {"field": "n"}}}
         ]},
        {"data": {"values": [{}]},
         "encoding": {"x": {"datum": -1, "type": "quantitative", "scale": {"domain": [-1,1], "nice": false}, "axis": null}, "y": {"datum": 1.25, "type": "quantitative", "scale": {"domain": [0.5,2], "nice": false, "zero": false}, "axis": null}},
         "layer": [
           {"mark": {"type": "text", "angle": 270, "align": "left", "baseline": "alphabetic", "fontSize": 56, "fontStyle": "italic", "dx": -46, "dy": -118}, "encoding": {"text": {"value": "p"}}},
           {"mark": {"type": "text", "angle": 270, "align": "left", "baseline": "alphabetic", "fontSize": 56, "dx": -18, "dy": -118}, "encoding": {"text": {"value": "/"}}},
           {"mark": {"type": "text", "angle": 270, "align": "left", "baseline": "alphabetic", "fontSize": 56, "fontStyle": "italic", "dx": -2, "dy": -118}, "encoding": {"text": {"value": "p"}}},
           {"mark": {"type": "text", "angle": 270, "align": "left", "baseline": "alphabetic", "fontSize": 34, "dx": 26, "dy": -108}, "encoding": {"text": {"value": "b"}}}
         ]},
        {"data": {"values": [{}]},
         "encoding": {"x": {"datum": 0, "type": "quantitative", "scale": {"domain": [-1,1], "nice": false}, "axis": null}, "y": {"datum": 0.5, "type": "quantitative", "scale": {"domain": [0.5,2], "nice": false, "zero": false}, "axis": null}},
         "layer": [
           {"mark": {"type": "text", "align": "right", "baseline": "alphabetic", "fontSize": 54, "dx": -17, "dy": 233}, "encoding": {"text": {"value": "(b)"}}},
           {"mark": {"type": "text", "align": "left", "baseline": "alphabetic", "fontSize": 54, "fontStyle": "italic", "dx": -3, "dy": 233}, "encoding": {"text": {"value": "B-B"}}}
         ]}
      ]
    },
    {
      "width": 1088, "height": 950,
      "resolve": {"scale": {"y": "independent"}, "axis": {"x": "independent", "y": "independent"}},
      "layer": [
        {"data": {"name": "c"}, "transform": [{"fold": ["k2","k4","k6","k8","k10"], "as": ["k","v"]}],
         "mark": {"type": "line", "strokeWidth": 9, "opacity": 0.25},
         "encoding": {
           "x": {"field": "s", "type": "quantitative", "scale": {"domain": [-1,1], "nice": false}, "axis": {"orient": "bottom", "values": [-0.75,-0.25,0.25,0.75], "tickSize": -12, "labels": false, "title": null}},
           "y": {"field": "v", "type": "quantitative", "scale": {"domain": [0.5,2], "nice": false, "zero": false}, "axis": {"orient": "left", "values": [0.75,1.25,1.75], "tickSize": -12, "labels": false, "title": null}},
           "color": {"field": "k", "type": "nominal", "scale": {"domain": ["k2","k4","k6","k8","k10"], "range": ["#3a3a3a","#e8383d","#1565d8","#2b9e5a","#a573e0"]}, "legend": null}}},
        {"data": {"name": "c"}, "transform": [{"fold": ["k2","k4","k6","k8","k10"], "as": ["k","v"]}],
         "mark": {"type": "line", "strokeWidth": 3.5},
         "encoding": {
           "x": {"field": "s", "type": "quantitative", "scale": {"domain": [-1,1], "nice": false}, "axis": {"orient": "bottom", "values": [-1,-0.5,0,0.5,1], "tickSize": -19, "labelPadding": 37, "labelExpr": "datum.value == 0 ? '0' : format(datum.value, '.1f')", "title": "S", "titleFontStyle": "italic", "titlePadding": 24}},
           "y": {"field": "v", "type": "quantitative", "scale": {"domain": [0.5,2], "nice": false, "zero": false}, "axis": {"orient": "left", "values": [0.5,1,1.5,2], "tickSize": -19, "labelPadding": 42, "format": ".1f", "title": null}},
           "color": {"field": "k", "type": "nominal", "scale": {"domain": ["k2","k4","k6","k8","k10"], "range": ["#3a3a3a","#e8383d","#1565d8","#2b9e5a","#a573e0"]}, "legend": null}}},
        {"data": {"name": "c"}, "transform": [{"fold": ["k2","k4","k6","k8","k10"], "as": ["k","v"]}, {"filter": "datum.k != 'k4'"}],
         "mark": {"type": "point", "filled": true, "opacity": 1, "size": 130},
         "encoding": {
           "x": {"field": "s", "type": "quantitative", "scale": {"domain": [-1,1], "nice": false}, "axis": null},
           "y": {"field": "v", "type": "quantitative", "scale": {"domain": [0.5,2], "nice": false, "zero": false}, "axis": null},
           "color": {"field": "k", "type": "nominal", "scale": {"domain": ["k2","k4","k6","k8","k10"], "range": ["#3a3a3a","#e8383d","#1565d8","#2b9e5a","#a573e0"]}, "legend": null},
           "shape": {"field": "k", "type": "nominal", "scale": {"domain": ["k2","k4","k6","k8","k10"], "range": ["square","circle","triangle-up","triangle-down","diamond"]}, "legend": null}}},
        {"data": {"name": "c"}, "transform": [{"fold": ["k2","k4","k6","k8","k10"], "as": ["k","v"]}, {"filter": "datum.k == 'k4'"}],
         "mark": {"type": "point", "filled": true, "opacity": 1, "size": 60},
         "encoding": {
           "x": {"field": "s", "type": "quantitative", "scale": {"domain": [-1,1], "nice": false}, "axis": null},
           "y": {"field": "v", "type": "quantitative", "scale": {"domain": [0.5,2], "nice": false, "zero": false}, "axis": null},
           "color": {"field": "k", "type": "nominal", "scale": {"domain": ["k2","k4","k6","k8","k10"], "range": ["#3a3a3a","#e8383d","#1565d8","#2b9e5a","#a573e0"]}, "legend": null},
           "shape": {"field": "k", "type": "nominal", "scale": {"domain": ["k2","k4","k6","k8","k10"], "range": ["square","circle","triangle-up","triangle-down","diamond"]}, "legend": null}}},
        {"data": {"name": "leg"},
         "encoding": {"y": {"field": "k", "type": "nominal", "scale": {"type": "point", "domain": ["k2","k4","k6","k8","k10"], "range": [566,868], "padding": 0}, "axis": null}},
         "layer": [
           {"mark": {"type": "rule", "strokeWidth": 9, "opacity": 0.25}, "encoding": {"x": {"datum": 0.278, "type": "quantitative", "scale": {"domain": [-1,1], "nice": false}, "axis": null}, "x2": {"datum": 0.434}, "color": {"field": "k", "type": "nominal", "scale": {"domain": ["k2","k4","k6","k8","k10"], "range": ["#3a3a3a","#e8383d","#1565d8","#2b9e5a","#a573e0"]}, "legend": null}}},
           {"mark": {"type": "rule", "strokeWidth": 3.5}, "encoding": {"x": {"datum": 0.278, "type": "quantitative", "scale": {"domain": [-1,1], "nice": false}, "axis": null}, "x2": {"datum": 0.434}, "color": {"field": "k", "type": "nominal", "scale": {"domain": ["k2","k4","k6","k8","k10"], "range": ["#3a3a3a","#e8383d","#1565d8","#2b9e5a","#a573e0"]}, "legend": null}}},
           {"mark": {"type": "point", "filled": true, "opacity": 1, "size": 200}, "encoding": {"x": {"datum": 0.355, "type": "quantitative", "scale": {"domain": [-1,1], "nice": false}, "axis": null}, "color": {"field": "k", "type": "nominal", "scale": {"domain": ["k2","k4","k6","k8","k10"], "range": ["#3a3a3a","#e8383d","#1565d8","#2b9e5a","#a573e0"]}, "legend": null}, "shape": {"field": "k", "type": "nominal", "scale": {"domain": ["k2","k4","k6","k8","k10"], "range": ["square","circle","triangle-up","triangle-down","diamond"]}, "legend": null}}},
           {"mark": {"type": "text", "fontSize": 52, "fontStyle": "italic", "align": "left", "baseline": "alphabetic", "dx": 0, "dy": 19}, "encoding": {"x": {"datum": 0.48, "type": "quantitative", "scale": {"domain": [-1,1], "nice": false}, "axis": null}, "text": {"value": "W"}}},
           {"mark": {"type": "text", "fontSize": 32, "align": "left", "baseline": "alphabetic", "dx": 41, "dy": 30}, "encoding": {"x": {"datum": 0.48, "type": "quantitative", "scale": {"domain": [-1,1], "nice": false}, "axis": null}, "text": {"value": "e"}}},
           {"mark": {"type": "text", "fontSize": 52, "align": "left", "baseline": "alphabetic", "dx": 55, "dy": 19}, "encoding": {"x": {"datum": 0.48, "type": "quantitative", "scale": {"domain": [-1,1], "nice": false}, "axis": null}, "text": {"value": "/"}}},
           {"mark": {"type": "text", "fontSize": 52, "fontStyle": "italic", "align": "left", "baseline": "alphabetic", "dx": 69, "dy": 19}, "encoding": {"x": {"datum": 0.48, "type": "quantitative", "scale": {"domain": [-1,1], "nice": false}, "axis": null}, "text": {"value": "H"}}},
           {"mark": {"type": "text", "fontSize": 32, "align": "left", "baseline": "alphabetic", "dx": 105, "dy": 30}, "encoding": {"x": {"datum": 0.48, "type": "quantitative", "scale": {"domain": [-1,1], "nice": false}, "axis": null}, "text": {"value": "e"}}},
           {"mark": {"type": "text", "fontSize": 52, "align": "left", "baseline": "alphabetic", "dx": 119, "dy": 19}, "encoding": {"x": {"datum": 0.48, "type": "quantitative", "scale": {"domain": [-1,1], "nice": false}, "axis": null}, "text": {"field": "n"}}}
         ]},
        {"data": {"values": [{}]},
         "encoding": {"x": {"datum": -1, "type": "quantitative", "scale": {"domain": [-1,1], "nice": false}, "axis": null}, "y": {"datum": 1.25, "type": "quantitative", "scale": {"domain": [0.5,2], "nice": false, "zero": false}, "axis": null}},
         "layer": [
           {"mark": {"type": "text", "angle": 270, "align": "left", "baseline": "alphabetic", "fontSize": 56, "fontStyle": "italic", "dx": -46, "dy": -118}, "encoding": {"text": {"value": "p"}}},
           {"mark": {"type": "text", "angle": 270, "align": "left", "baseline": "alphabetic", "fontSize": 56, "dx": -18, "dy": -118}, "encoding": {"text": {"value": "/"}}},
           {"mark": {"type": "text", "angle": 270, "align": "left", "baseline": "alphabetic", "fontSize": 56, "fontStyle": "italic", "dx": -2, "dy": -118}, "encoding": {"text": {"value": "p"}}},
           {"mark": {"type": "text", "angle": 270, "align": "left", "baseline": "alphabetic", "fontSize": 34, "dx": 26, "dy": -108}, "encoding": {"text": {"value": "b"}}}
         ]},
        {"data": {"values": [{}]},
         "encoding": {"x": {"datum": 0, "type": "quantitative", "scale": {"domain": [-1,1], "nice": false}, "axis": null}, "y": {"datum": 0.5, "type": "quantitative", "scale": {"domain": [0.5,2], "nice": false, "zero": false}, "axis": null}},
         "layer": [
           {"mark": {"type": "text", "align": "right", "baseline": "alphabetic", "fontSize": 54, "dx": -22, "dy": 233}, "encoding": {"text": {"value": "(c)"}}},
           {"mark": {"type": "text", "align": "left", "baseline": "alphabetic", "fontSize": 54, "fontStyle": "italic", "dx": -8, "dy": 233}, "encoding": {"text": {"value": "C-C"}}}
         ]}
      ]
    },
    {
      "width": 1088, "height": 950,
      "resolve": {"scale": {"y": "independent"}, "axis": {"x": "independent", "y": "independent"}},
      "layer": [
        {"data": {"name": "d"}, "transform": [{"fold": ["k2","k4","k6","k8","k10"], "as": ["k","v"]}],
         "mark": {"type": "line", "strokeWidth": 9, "opacity": 0.25},
         "encoding": {
           "x": {"field": "s", "type": "quantitative", "scale": {"domain": [-1,1], "nice": false}, "axis": {"orient": "bottom", "values": [-0.75,-0.25,0.25,0.75], "tickSize": -12, "labels": false, "title": null}},
           "y": {"field": "v", "type": "quantitative", "scale": {"domain": [0.5,2], "nice": false, "zero": false}, "axis": {"orient": "left", "values": [0.75,1.25,1.75], "tickSize": -12, "labels": false, "title": null}},
           "color": {"field": "k", "type": "nominal", "scale": {"domain": ["k2","k4","k6","k8","k10"], "range": ["#3a3a3a","#e8383d","#1565d8","#2b9e5a","#a573e0"]}, "legend": null}}},
        {"data": {"name": "d"}, "transform": [{"fold": ["k2","k4","k6","k8","k10"], "as": ["k","v"]}],
         "mark": {"type": "line", "strokeWidth": 3.5},
         "encoding": {
           "x": {"field": "s", "type": "quantitative", "scale": {"domain": [-1,1], "nice": false}, "axis": {"orient": "bottom", "values": [-1,-0.5,0,0.5,1], "tickSize": -19, "labelPadding": 37, "labelExpr": "datum.value == 0 ? '0' : format(datum.value, '.1f')", "title": "S", "titleFontStyle": "italic", "titlePadding": 24}},
           "y": {"field": "v", "type": "quantitative", "scale": {"domain": [0.5,2], "nice": false, "zero": false}, "axis": {"orient": "left", "values": [0.5,1,1.5,2], "tickSize": -19, "labelPadding": 42, "format": ".1f", "title": null}},
           "color": {"field": "k", "type": "nominal", "scale": {"domain": ["k2","k4","k6","k8","k10"], "range": ["#3a3a3a","#e8383d","#1565d8","#2b9e5a","#a573e0"]}, "legend": null}}},
        {"data": {"name": "d"}, "transform": [{"fold": ["k2","k4","k6","k8","k10"], "as": ["k","v"]}, {"filter": "datum.k != 'k4'"}],
         "mark": {"type": "point", "filled": true, "opacity": 1, "size": 130},
         "encoding": {
           "x": {"field": "s", "type": "quantitative", "scale": {"domain": [-1,1], "nice": false}, "axis": null},
           "y": {"field": "v", "type": "quantitative", "scale": {"domain": [0.5,2], "nice": false, "zero": false}, "axis": null},
           "color": {"field": "k", "type": "nominal", "scale": {"domain": ["k2","k4","k6","k8","k10"], "range": ["#3a3a3a","#e8383d","#1565d8","#2b9e5a","#a573e0"]}, "legend": null},
           "shape": {"field": "k", "type": "nominal", "scale": {"domain": ["k2","k4","k6","k8","k10"], "range": ["square","circle","triangle-up","triangle-down","diamond"]}, "legend": null}}},
        {"data": {"name": "d"}, "transform": [{"fold": ["k2","k4","k6","k8","k10"], "as": ["k","v"]}, {"filter": "datum.k == 'k4'"}],
         "mark": {"type": "point", "filled": true, "opacity": 1, "size": 60},
         "encoding": {
           "x": {"field": "s", "type": "quantitative", "scale": {"domain": [-1,1], "nice": false}, "axis": null},
           "y": {"field": "v", "type": "quantitative", "scale": {"domain": [0.5,2], "nice": false, "zero": false}, "axis": null},
           "color": {"field": "k", "type": "nominal", "scale": {"domain": ["k2","k4","k6","k8","k10"], "range": ["#3a3a3a","#e8383d","#1565d8","#2b9e5a","#a573e0"]}, "legend": null},
           "shape": {"field": "k", "type": "nominal", "scale": {"domain": ["k2","k4","k6","k8","k10"], "range": ["square","circle","triangle-up","triangle-down","diamond"]}, "legend": null}}},
        {"data": {"name": "leg"},
         "encoding": {"y": {"field": "k", "type": "nominal", "scale": {"type": "point", "domain": ["k2","k4","k6","k8","k10"], "range": [86,388], "padding": 0}, "axis": null}},
         "layer": [
           {"mark": {"type": "rule", "strokeWidth": 9, "opacity": 0.25}, "encoding": {"x": {"datum": 0.278, "type": "quantitative", "scale": {"domain": [-1,1], "nice": false}, "axis": null}, "x2": {"datum": 0.434}, "color": {"field": "k", "type": "nominal", "scale": {"domain": ["k2","k4","k6","k8","k10"], "range": ["#3a3a3a","#e8383d","#1565d8","#2b9e5a","#a573e0"]}, "legend": null}}},
           {"mark": {"type": "rule", "strokeWidth": 3.5}, "encoding": {"x": {"datum": 0.278, "type": "quantitative", "scale": {"domain": [-1,1], "nice": false}, "axis": null}, "x2": {"datum": 0.434}, "color": {"field": "k", "type": "nominal", "scale": {"domain": ["k2","k4","k6","k8","k10"], "range": ["#3a3a3a","#e8383d","#1565d8","#2b9e5a","#a573e0"]}, "legend": null}}},
           {"mark": {"type": "point", "filled": true, "opacity": 1, "size": 200}, "encoding": {"x": {"datum": 0.355, "type": "quantitative", "scale": {"domain": [-1,1], "nice": false}, "axis": null}, "color": {"field": "k", "type": "nominal", "scale": {"domain": ["k2","k4","k6","k8","k10"], "range": ["#3a3a3a","#e8383d","#1565d8","#2b9e5a","#a573e0"]}, "legend": null}, "shape": {"field": "k", "type": "nominal", "scale": {"domain": ["k2","k4","k6","k8","k10"], "range": ["square","circle","triangle-up","triangle-down","diamond"]}, "legend": null}}},
           {"mark": {"type": "text", "fontSize": 52, "fontStyle": "italic", "align": "left", "baseline": "alphabetic", "dx": 0, "dy": 19}, "encoding": {"x": {"datum": 0.48, "type": "quantitative", "scale": {"domain": [-1,1], "nice": false}, "axis": null}, "text": {"value": "W"}}},
           {"mark": {"type": "text", "fontSize": 32, "align": "left", "baseline": "alphabetic", "dx": 41, "dy": 30}, "encoding": {"x": {"datum": 0.48, "type": "quantitative", "scale": {"domain": [-1,1], "nice": false}, "axis": null}, "text": {"value": "e"}}},
           {"mark": {"type": "text", "fontSize": 52, "align": "left", "baseline": "alphabetic", "dx": 55, "dy": 19}, "encoding": {"x": {"datum": 0.48, "type": "quantitative", "scale": {"domain": [-1,1], "nice": false}, "axis": null}, "text": {"value": "/"}}},
           {"mark": {"type": "text", "fontSize": 52, "fontStyle": "italic", "align": "left", "baseline": "alphabetic", "dx": 69, "dy": 19}, "encoding": {"x": {"datum": 0.48, "type": "quantitative", "scale": {"domain": [-1,1], "nice": false}, "axis": null}, "text": {"value": "H"}}},
           {"mark": {"type": "text", "fontSize": 32, "align": "left", "baseline": "alphabetic", "dx": 105, "dy": 30}, "encoding": {"x": {"datum": 0.48, "type": "quantitative", "scale": {"domain": [-1,1], "nice": false}, "axis": null}, "text": {"value": "e"}}},
           {"mark": {"type": "text", "fontSize": 52, "align": "left", "baseline": "alphabetic", "dx": 119, "dy": 19}, "encoding": {"x": {"datum": 0.48, "type": "quantitative", "scale": {"domain": [-1,1], "nice": false}, "axis": null}, "text": {"field": "n"}}}
         ]},
        {"data": {"values": [{}]},
         "encoding": {"x": {"datum": -1, "type": "quantitative", "scale": {"domain": [-1,1], "nice": false}, "axis": null}, "y": {"datum": 1.25, "type": "quantitative", "scale": {"domain": [0.5,2], "nice": false, "zero": false}, "axis": null}},
         "layer": [
           {"mark": {"type": "text", "angle": 270, "align": "left", "baseline": "alphabetic", "fontSize": 56, "fontStyle": "italic", "dx": -46, "dy": -118}, "encoding": {"text": {"value": "p"}}},
           {"mark": {"type": "text", "angle": 270, "align": "left", "baseline": "alphabetic", "fontSize": 56, "dx": -18, "dy": -118}, "encoding": {"text": {"value": "/"}}},
           {"mark": {"type": "text", "angle": 270, "align": "left", "baseline": "alphabetic", "fontSize": 56, "fontStyle": "italic", "dx": -2, "dy": -118}, "encoding": {"text": {"value": "p"}}},
           {"mark": {"type": "text", "angle": 270, "align": "left", "baseline": "alphabetic", "fontSize": 34, "dx": 26, "dy": -108}, "encoding": {"text": {"value": "b"}}}
         ]},
        {"data": {"values": [{}]},
         "encoding": {"x": {"datum": 0, "type": "quantitative", "scale": {"domain": [-1,1], "nice": false}, "axis": null}, "y": {"datum": 0.5, "type": "quantitative", "scale": {"domain": [0.5,2], "nice": false, "zero": false}, "axis": null}},
         "layer": [
           {"mark": {"type": "text", "align": "right", "baseline": "alphabetic", "fontSize": 54, "dx": -54, "dy": 233}, "encoding": {"text": {"value": "(d)"}}},
           {"mark": {"type": "text", "align": "left", "baseline": "alphabetic", "fontSize": 54, "fontStyle": "italic", "dx": -41, "dy": 233}, "encoding": {"text": {"value": "D-D"}}},
           {"mark": {"type": "text", "align": "left", "baseline": "alphabetic", "fontSize": 52, "font": "Noto Sans CJK SC", "dx": 58, "dy": 232}, "encoding": {"text": {"value": "截"}}}
         ]}
      ]
    },
    {
      "width": 1088, "height": 950,
      "resolve": {"scale": {"y": "independent"}, "axis": {"x": "independent", "y": "independent"}},
      "layer": [
        {"data": {"name": "e"}, "transform": [{"fold": ["k2","k4","k6","k8","k10"], "as": ["k","v"]}],
         "mark": {"type": "line", "strokeWidth": 9, "opacity": 0.25},
         "encoding": {
           "x": {"field": "s", "type": "quantitative", "scale": {"domain": [-1,1], "nice": false}, "axis": {"orient": "bottom", "values": [-0.75,-0.25,0.25,0.75], "tickSize": -12, "labels": false, "title": null}},
           "y": {"field": "v", "type": "quantitative", "scale": {"domain": [0.5,2], "nice": false, "zero": false}, "axis": {"orient": "left", "values": [0.75,1.25,1.75], "tickSize": -12, "labels": false, "title": null}},
           "color": {"field": "k", "type": "nominal", "scale": {"domain": ["k2","k4","k6","k8","k10"], "range": ["#3a3a3a","#e8383d","#1565d8","#2b9e5a","#a573e0"]}, "legend": null}}},
        {"data": {"name": "e"}, "transform": [{"fold": ["k2","k4","k6","k8","k10"], "as": ["k","v"]}],
         "mark": {"type": "line", "strokeWidth": 3.5},
         "encoding": {
           "x": {"field": "s", "type": "quantitative", "scale": {"domain": [-1,1], "nice": false}, "axis": {"orient": "bottom", "values": [-1,-0.5,0,0.5,1], "tickSize": -19, "labelPadding": 37, "labelExpr": "datum.value == 0 ? '0' : format(datum.value, '.1f')", "title": "S", "titleFontStyle": "italic", "titlePadding": 24}},
           "y": {"field": "v", "type": "quantitative", "scale": {"domain": [0.5,2], "nice": false, "zero": false}, "axis": {"orient": "left", "values": [0.5,1,1.5,2], "tickSize": -19, "labelPadding": 42, "format": ".1f", "title": null}},
           "color": {"field": "k", "type": "nominal", "scale": {"domain": ["k2","k4","k6","k8","k10"], "range": ["#3a3a3a","#e8383d","#1565d8","#2b9e5a","#a573e0"]}, "legend": null}}},
        {"data": {"name": "e"}, "transform": [{"fold": ["k2","k4","k6","k8","k10"], "as": ["k","v"]}, {"filter": "datum.k != 'k4'"}],
         "mark": {"type": "point", "filled": true, "opacity": 1, "size": 130},
         "encoding": {
           "x": {"field": "s", "type": "quantitative", "scale": {"domain": [-1,1], "nice": false}, "axis": null},
           "y": {"field": "v", "type": "quantitative", "scale": {"domain": [0.5,2], "nice": false, "zero": false}, "axis": null},
           "color": {"field": "k", "type": "nominal", "scale": {"domain": ["k2","k4","k6","k8","k10"], "range": ["#3a3a3a","#e8383d","#1565d8","#2b9e5a","#a573e0"]}, "legend": null},
           "shape": {"field": "k", "type": "nominal", "scale": {"domain": ["k2","k4","k6","k8","k10"], "range": ["square","circle","triangle-up","triangle-down","diamond"]}, "legend": null}}},
        {"data": {"name": "e"}, "transform": [{"fold": ["k2","k4","k6","k8","k10"], "as": ["k","v"]}, {"filter": "datum.k == 'k4'"}],
         "mark": {"type": "point", "filled": true, "opacity": 1, "size": 60},
         "encoding": {
           "x": {"field": "s", "type": "quantitative", "scale": {"domain": [-1,1], "nice": false}, "axis": null},
           "y": {"field": "v", "type": "quantitative", "scale": {"domain": [0.5,2], "nice": false, "zero": false}, "axis": null},
           "color": {"field": "k", "type": "nominal", "scale": {"domain": ["k2","k4","k6","k8","k10"], "range": ["#3a3a3a","#e8383d","#1565d8","#2b9e5a","#a573e0"]}, "legend": null},
           "shape": {"field": "k", "type": "nominal", "scale": {"domain": ["k2","k4","k6","k8","k10"], "range": ["square","circle","triangle-up","triangle-down","diamond"]}, "legend": null}}},
        {"data": {"name": "leg"},
         "encoding": {"y": {"field": "k", "type": "nominal", "scale": {"type": "point", "domain": ["k2","k4","k6","k8","k10"], "range": [86,388], "padding": 0}, "axis": null}},
         "layer": [
           {"mark": {"type": "rule", "strokeWidth": 9, "opacity": 0.25}, "encoding": {"x": {"datum": 0.278, "type": "quantitative", "scale": {"domain": [-1,1], "nice": false}, "axis": null}, "x2": {"datum": 0.434}, "color": {"field": "k", "type": "nominal", "scale": {"domain": ["k2","k4","k6","k8","k10"], "range": ["#3a3a3a","#e8383d","#1565d8","#2b9e5a","#a573e0"]}, "legend": null}}},
           {"mark": {"type": "rule", "strokeWidth": 3.5}, "encoding": {"x": {"datum": 0.278, "type": "quantitative", "scale": {"domain": [-1,1], "nice": false}, "axis": null}, "x2": {"datum": 0.434}, "color": {"field": "k", "type": "nominal", "scale": {"domain": ["k2","k4","k6","k8","k10"], "range": ["#3a3a3a","#e8383d","#1565d8","#2b9e5a","#a573e0"]}, "legend": null}}},
           {"mark": {"type": "point", "filled": true, "opacity": 1, "size": 200}, "encoding": {"x": {"datum": 0.355, "type": "quantitative", "scale": {"domain": [-1,1], "nice": false}, "axis": null}, "color": {"field": "k", "type": "nominal", "scale": {"domain": ["k2","k4","k6","k8","k10"], "range": ["#3a3a3a","#e8383d","#1565d8","#2b9e5a","#a573e0"]}, "legend": null}, "shape": {"field": "k", "type": "nominal", "scale": {"domain": ["k2","k4","k6","k8","k10"], "range": ["square","circle","triangle-up","triangle-down","diamond"]}, "legend": null}}},
           {"mark": {"type": "text", "fontSize": 52, "fontStyle": "italic", "align": "left", "baseline": "alphabetic", "dx": 0, "dy": 19}, "encoding": {"x": {"datum": 0.48, "type": "quantitative", "scale": {"domain": [-1,1], "nice": false}, "axis": null}, "text": {"value": "W"}}},
           {"mark": {"type": "text", "fontSize": 32, "align": "left", "baseline": "alphabetic", "dx": 41, "dy": 30}, "encoding": {"x": {"datum": 0.48, "type": "quantitative", "scale": {"domain": [-1,1], "nice": false}, "axis": null}, "text": {"value": "e"}}},
           {"mark": {"type": "text", "fontSize": 52, "align": "left", "baseline": "alphabetic", "dx": 55, "dy": 19}, "encoding": {"x": {"datum": 0.48, "type": "quantitative", "scale": {"domain": [-1,1], "nice": false}, "axis": null}, "text": {"value": "/"}}},
           {"mark": {"type": "text", "fontSize": 52, "fontStyle": "italic", "align": "left", "baseline": "alphabetic", "dx": 69, "dy": 19}, "encoding": {"x": {"datum": 0.48, "type": "quantitative", "scale": {"domain": [-1,1], "nice": false}, "axis": null}, "text": {"value": "H"}}},
           {"mark": {"type": "text", "fontSize": 32, "align": "left", "baseline": "alphabetic", "dx": 105, "dy": 30}, "encoding": {"x": {"datum": 0.48, "type": "quantitative", "scale": {"domain": [-1,1], "nice": false}, "axis": null}, "text": {"value": "e"}}},
           {"mark": {"type": "text", "fontSize": 52, "align": "left", "baseline": "alphabetic", "dx": 119, "dy": 19}, "encoding": {"x": {"datum": 0.48, "type": "quantitative", "scale": {"domain": [-1,1], "nice": false}, "axis": null}, "text": {"field": "n"}}}
         ]},
        {"data": {"values": [{}]},
         "encoding": {"x": {"datum": -1, "type": "quantitative", "scale": {"domain": [-1,1], "nice": false}, "axis": null}, "y": {"datum": 1.25, "type": "quantitative", "scale": {"domain": [0.5,2], "nice": false, "zero": false}, "axis": null}},
         "layer": [
           {"mark": {"type": "text", "angle": 270, "align": "left", "baseline": "alphabetic", "fontSize": 56, "fontStyle": "italic", "dx": -46, "dy": -118}, "encoding": {"text": {"value": "p"}}},
           {"mark": {"type": "text", "angle": 270, "align": "left", "baseline": "alphabetic", "fontSize": 56, "dx": -18, "dy": -118}, "encoding": {"text": {"value": "/"}}},
           {"mark": {"type": "text", "angle": 270, "align": "left", "baseline": "alphabetic", "fontSize": 56, "fontStyle": "italic", "dx": -2, "dy": -118}, "encoding": {"text": {"value": "p"}}},
           {"mark": {"type": "text", "angle": 270, "align": "left", "baseline": "alphabetic", "fontSize": 34, "dx": 26, "dy": -108}, "encoding": {"text": {"value": "b"}}}
         ]},
        {"data": {"values": [{}]},
         "encoding": {"x": {"datum": 0, "type": "quantitative", "scale": {"domain": [-1,1], "nice": false}, "axis": null}, "y": {"datum": 0.5, "type": "quantitative", "scale": {"domain": [0.5,2], "nice": false, "zero": false}, "axis": null}},
         "layer": [
           {"mark": {"type": "text", "align": "right", "baseline": "alphabetic", "fontSize": 54, "dx": -19, "dy": 233}, "encoding": {"text": {"value": "(e)"}}},
           {"mark": {"type": "text", "align": "left", "baseline": "alphabetic", "fontSize": 54, "fontStyle": "italic", "dx": -5, "dy": 233}, "encoding": {"text": {"value": "E-E"}}}
         ]}
      ]
    }
  ]
}
